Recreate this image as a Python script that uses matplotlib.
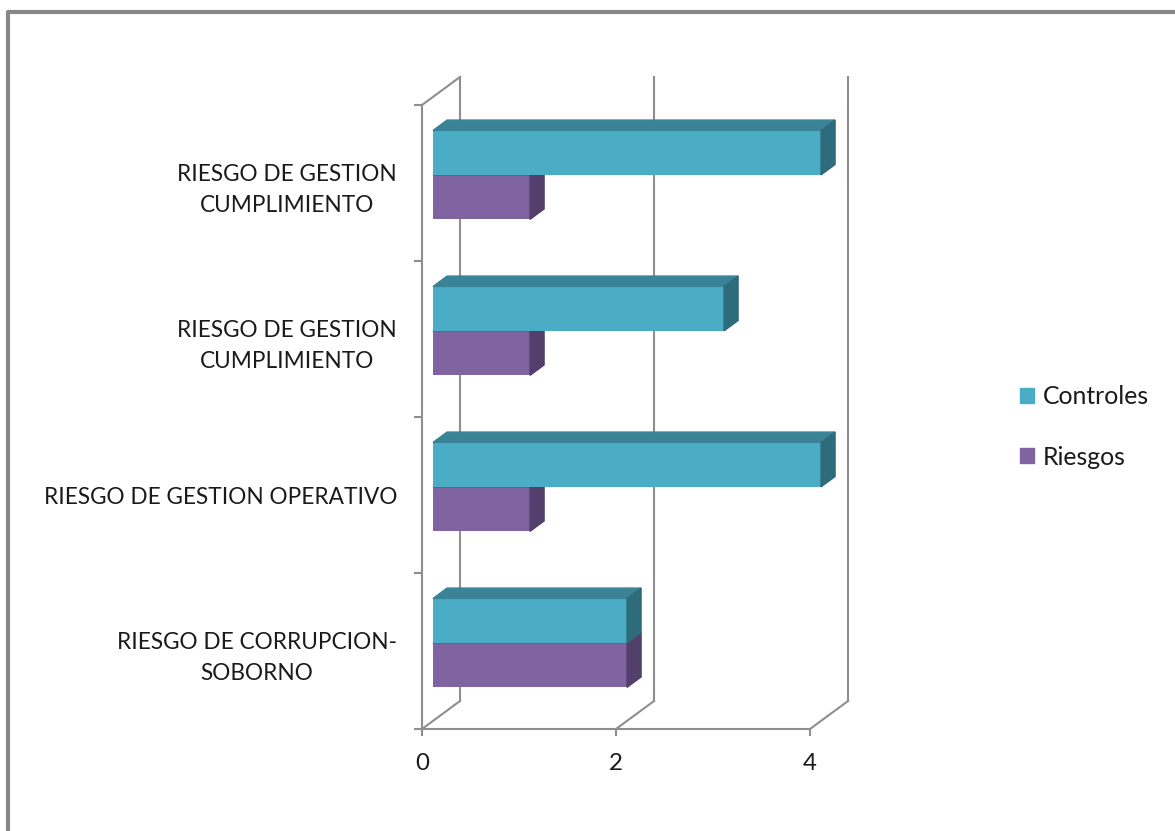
import numpy as np
import matplotlib.pyplot as plt
from matplotlib.patches import Polygon, Patch
from matplotlib.lines import Line2D

# Data (bottom to top as drawn)
categorias = ["RIESGO DE CORRUPCION-\nSOBORNO",
              "RIESGO DE GESTION OPERATIVO",
              "RIESGO DE GESTION\nCUMPLIMIENTO",
              "RIESGO DE GESTION\nCUMPLIMIENTO"]
controles = [2, 4, 3, 4]
riesgos = [2, 1, 1, 1]
xticks = [0, 2, 4]

c_ctrl = ("#4BACC6", "#3A8396", "#2E6C7B")   # front, top, side
c_ries = ("#8064A2", "#6A5387", "#533F6B")

plt.rcParams['font.family'] = ['Lato', 'DejaVu Sans']
FS = 16.3
GRAY = "#8E8E8E"

fig = plt.figure(figsize=(11.75, 8.31), dpi=100)
ax = fig.add_axes([422/1175, 1 - 729/831, 388/1175, 624/831])
ax.set_xlim(0, 4)
ax.set_ylim(-0.5, 3.5)

# 3D depth, in data units
DX = 38/97
DY = 28/156
f0, f1 = 0.29, 0.66
h = 0.285

# walls / grid
y_lo, y_hi = -0.5, 3.5
for v in xticks:
    ax.add_line(Line2D([v, v + DX], [y_lo, y_lo + DY], color=GRAY, lw=1.5, clip_on=False))
    ax.add_line(Line2D([v + DX, v + DX], [y_lo + DY, y_hi + DY], color=GRAY, lw=1.5, clip_on=False))
ax.add_line(Line2D([0, DX], [y_hi, y_hi + DY], color=GRAY, lw=1.5, clip_on=False))


def bar3d(yb, v, cols):
    left = DX * f0
    bars = ax.barh(yb + h/2, v, left=left, height=h, color=cols[0], zorder=3)
    for b in bars:
        b.set_clip_on(False)
    x1 = left + v
    bx, by = DX * (f1 - f0), DY * (f1 - f0)
    top = yb + h
    ax.add_patch(Polygon([(left, top), (left + bx, top + by), (x1 + bx, top + by), (x1, top)],
                         closed=True, color=cols[1], zorder=3, clip_on=False))
    ax.add_patch(Polygon([(x1, yb), (x1 + bx, yb + by), (x1 + bx, top + by), (x1, top)],
                         closed=True, color=cols[2], zorder=3, clip_on=False))


for i in range(len(categorias)):
    c = i + DY * f0
    bar3d(c - h, riesgos[i], c_ries)
    bar3d(c, controles[i], c_ctrl)

for s in ['top', 'right']:
    ax.spines[s].set_visible(False)
for s in ['left', 'bottom']:
    ax.spines[s].set_color(GRAY)
    ax.spines[s].set_linewidth(1.5)

ax.set_yticks(range(len(categorias)))
ax.set_yticklabels(categorias, fontsize=FS, ha='right', multialignment='center', linespacing=1.6)
ax.set_yticks(np.arange(-0.5, 4, 1), minor=True)
ax.tick_params(axis='y', which='major', length=0, pad=18, colors='#1A1A1A')
ax.tick_params(axis='y', which='minor', length=6, width=1.5, color=GRAY)
ax.set_xticks(xticks)
ax.set_xticklabels([str(t) for t in xticks], fontsize=FS + 1, color='#1A1A1A')
ax.tick_params(axis='x', length=5, width=1.5, color=GRAY, pad=12)

handles = [Patch(color=c_ctrl[0], label='Controles'), Patch(color=c_ries[0], label='Riesgos')]
leg = fig.legend(handles=handles, loc='center left', bbox_to_anchor=(998/1175, 1 - 427/831),
                 frameon=False, fontsize=FS + 1.5, handlelength=0.55, handleheight=0.55,
                 handletextpad=0.35, labelspacing=1.5)
for t in leg.get_texts():
    t.set_color('#1A1A1A')

# outer chart frame
fig.add_artist(Line2D([8/1175, 8/1175, 1], [0, 1 - 12/831, 1 - 12/831],
                      transform=fig.transFigure, color="#888888", lw=3))

fig.savefig("out.png", dpi=100)
